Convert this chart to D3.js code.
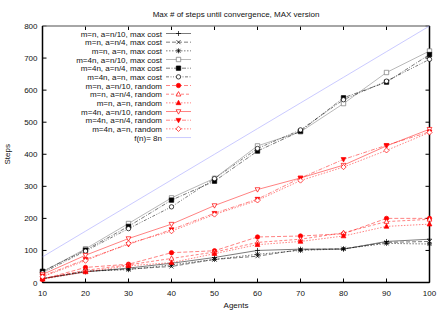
<!DOCTYPE html>
<html>
<head>
<meta charset="utf-8">
<script src="https://cdn.jsdelivr.net/npm/d3@7"></script>
<style>
  body { margin: 0; background: #fff; }
  svg text { font-family: "Liberation Sans", Arial, sans-serif; font-size: 8px; fill: #111; }
</style>
</head>
<body>
<div id="vis"></div>
<script>
// chart values
var agents = [10, 20, 30, 40, 50, 60, 70, 80, 90, 100];
var yTicks = [0, 100, 200, 300, 400, 500, 600, 700, 800];

var mnA10Max   = [12, 33, 45, 60, 78, 100, 104, 104, 128, 135];
var mnA4Max    = [12, 35, 42, 50, 72, 82, 103, 105, 125, 128];
var mnAnMax    = [12, 35, 40, 55, 72, 88, 100, 105, 122, 120];
var m4nA10Max  = [33, 105, 184, 264, 325, 426, 470, 558, 655, 722];
var m4nA4Max   = [35, 101, 175, 257, 316, 410, 472, 576, 625, 711];
var m4nAnMax   = [30, 98, 168, 236, 324, 418, 476, 570, 628, 696];
var mnA10Rand  = [10, 47, 57, 93, 99, 142, 145, 152, 200, 200];
var mnA4Rand   = [12, 38, 55, 75, 95, 125, 135, 155, 190, 197];
var mnAnRand   = [10, 33, 52, 62, 90, 118, 128, 145, 175, 182];
var m4nA10Rand = [25, 85, 137, 182, 240, 290, 326, 366, 426, 478];
var m4nA4Rand  = [20, 72, 119, 165, 216, 260, 326, 384, 428, 470];
var m4nAnRand  = [18, 68, 122, 160, 212, 256, 318, 360, 412, 468];
var f8n = agents.map(function(n) { return 8 * n; }); // f(n)=8n is the plotted function itself

var series = [
  {name: "m=n, a=n/10, max cost",   vals: mnA10Max,   color: "#000", dash: null,        mark: "plus"},
  {name: "m=n, a=n/4, max cost",    vals: mnA4Max,    color: "#000", dash: "4,2",       mark: "cross"},
  {name: "m=n, a=n, max cost",      vals: mnAnMax,    color: "#000", dash: "1.5,1.5",   mark: "star"},
  {name: "m=4n, a=n/10, max cost",  vals: m4nA10Max,  color: "#777", dash: null,        mark: "square"},
  {name: "m=4n, a=n/4, max cost",   vals: m4nA4Max,   color: "#000", dash: "4,1.5,1,1.5", mark: "squareF"},
  {name: "m=4n, a=n, max cost",     vals: m4nAnMax,   color: "#000", dash: "3,1.5,1,1.5,1,1.5", mark: "circle"},
  {name: "m=n, a=n/10, random",     vals: mnA10Rand,  color: "#f00", dash: "4,2",       mark: "circleF"},
  {name: "m=n, a=n/4, random",      vals: mnA4Rand,   color: "#f00", dash: "3,2",       mark: "triUp"},
  {name: "m=n, a=n, random",        vals: mnAnRand,   color: "#f00", dash: "1.5,1.5",   mark: "triUpF"},
  {name: "m=4n, a=n/10, random",    vals: m4nA10Rand, color: "#f00", dash: null,        mark: "triDown"},
  {name: "m=4n, a=n/4, random",     vals: m4nA4Rand,  color: "#f00", dash: "4,1.5,1,1.5", mark: "triDownF"},
  {name: "m=4n, a=n, random",       vals: m4nAnRand,  color: "#f00", dash: "1.5,1.5",   mark: "diamond"},
  {name: "f(n)= 8n",                vals: f8n,        color: "#99f", dash: null,        mark: null}
];

var margin = {top: 26, right: 15.5, bottom: 29.5, left: 42.5},
    W = 445, H = 312,
    width = W - margin.left - margin.right,
    height = H - margin.top - margin.bottom;

var x = d3.scaleLinear().domain([10, 100]).range([0, width]);
var y = d3.scaleLinear().domain([0, 800]).range([height, 0]);

var svg = d3.select("#vis").append("svg")
    .attr("width", W)
    .attr("height", H);

svg.append("text")
  .attr("x", margin.left + width / 2)
  .attr("y", 16.5)
  .attr("text-anchor", "middle")
  .text("Max # of steps until convergence, MAX version");

var g = svg.append("g")
    .attr("transform", "translate(" + margin.left + "," + margin.top + ")");

// ticks on all four sides, pointing in
var tl = 4;
agents.forEach(function(n) {
  g.append("line").attr("x1", x(n)).attr("x2", x(n)).attr("y1", height).attr("y2", height - tl)
    .attr("stroke", "#000").attr("stroke-width", 1);
  g.append("line").attr("x1", x(n)).attr("x2", x(n)).attr("y1", 0).attr("y2", tl)
    .attr("stroke", "#000").attr("stroke-width", 1);
  g.append("text").attr("x", x(n)).attr("y", height + 13)
    .attr("text-anchor", "middle").text(n);
});
yTicks.forEach(function(v) {
  g.append("line").attr("x1", 0).attr("x2", tl).attr("y1", y(v)).attr("y2", y(v))
    .attr("stroke", "#000").attr("stroke-width", 1);
  g.append("line").attr("x1", width).attr("x2", width - tl).attr("y1", y(v)).attr("y2", y(v))
    .attr("stroke", "#000").attr("stroke-width", 1);
  g.append("text").attr("x", -5).attr("y", y(v) + 3)
    .attr("text-anchor", "end").text(v);
});

// frame
g.append("line").attr("x1", 0).attr("x2", width).attr("y1", 0).attr("y2", 0)
  .attr("stroke", "#888").attr("stroke-width", 1.5);
g.append("line").attr("x1", 0).attr("x2", width).attr("y1", height).attr("y2", height)
  .attr("stroke", "#000").attr("stroke-width", 1.5);
g.append("line").attr("x1", 0).attr("x2", 0).attr("y1", 0).attr("y2", height)
  .attr("stroke", "#000").attr("stroke-width", 1.5);
g.append("line").attr("x1", width).attr("x2", width).attr("y1", 0).attr("y2", height)
  .attr("stroke", "#000").attr("stroke-width", 1.5);

svg.append("text")
  .attr("x", margin.left + width / 2)
  .attr("y", 308)
  .attr("text-anchor", "middle")
  .text("Agents");

svg.append("text")
  .attr("transform", "translate(10," + (margin.top + height / 2) + ") rotate(-90)")
  .attr("text-anchor", "middle")
  .text("Steps");

// marker shapes, centred at 0,0
function drawMark(sel, kind, color) {
  var fill = "#fff", path;
  switch (kind) {
    case "plus": path = "M-2.5,0H2.5M0,-2.5V2.5"; fill = "none"; break;
    case "cross": path = "M-2,-2L2,2M-2,2L2,-2"; fill = "none"; break;
    case "star": path = "M-2.5,0H2.5M0,-2.5V2.5M-2,-2L2,2M-2,2L2,-2"; fill = "none"; break;
    case "square": path = "M-2.2,-2.2H2.2V2.2H-2.2Z"; break;
    case "squareF": path = "M-2.2,-2.2H2.2V2.2H-2.2Z"; fill = color; break;
    case "circle": path = "M2.2,0A2.2,2.2 0 1,1 -2.2,0A2.2,2.2 0 1,1 2.2,0Z"; break;
    case "circleF": path = "M2.2,0A2.2,2.2 0 1,1 -2.2,0A2.2,2.2 0 1,1 2.2,0Z"; fill = color; break;
    case "triUp": path = "M0,-2.6L2.4,1.8L-2.4,1.8Z"; break;
    case "triUpF": path = "M0,-2.6L2.4,1.8L-2.4,1.8Z"; fill = color; break;
    case "triDown": path = "M0,2.6L2.4,-1.8L-2.4,-1.8Z"; break;
    case "triDownF": path = "M0,2.6L2.4,-1.8L-2.4,-1.8Z"; fill = color; break;
    case "diamond": path = "M0,-2.6L2.6,0L0,2.6L-2.6,0Z"; break;
  }
  sel.append("path")
    .attr("d", path)
    .attr("fill", fill)
    .attr("stroke", color)
    .attr("stroke-width", 0.7);
}

var line = d3.line()
  .x(function(d) { return x(d.n); })
  .y(function(d) { return y(d.v); });

series.forEach(function(s) {
  var pts = agents.map(function(n, i) { return {n: n, v: s.vals[i]}; });
  g.append("path")
    .datum(pts)
    .attr("d", line)
    .attr("fill", "none")
    .attr("stroke", s.color)
    .attr("stroke-width", 0.7)
    .attr("stroke-opacity", s.color === "#f00" ? 0.7 : 0.75)
    .attr("stroke-dasharray", s.dash);
  if (s.mark) {
    pts.forEach(function(p) {
      var m = g.append("g").attr("transform", "translate(" + x(p.n) + "," + y(p.v) + ")");
      drawMark(m, s.mark, s.color);
    });
  }
});

// legend
var key = svg.append("g");
series.forEach(function(s, i) {
  var ly = 33.5 + i * 8.67;
  key.append("text").attr("x", 162).attr("y", ly + 3).attr("text-anchor", "end").text(s.name);
  key.append("line").attr("x1", 166).attr("x2", 191).attr("y1", ly).attr("y2", ly)
    .attr("stroke", s.color).attr("stroke-width", 0.7)
    .attr("stroke-opacity", s.color === "#f00" ? 0.7 : 0.75)
    .attr("stroke-dasharray", s.dash);
  if (s.mark) {
    var m = key.append("g").attr("transform", "translate(178.5," + ly + ")");
    drawMark(m, s.mark, s.color);
  }
});
</script>
</body>
</html>
